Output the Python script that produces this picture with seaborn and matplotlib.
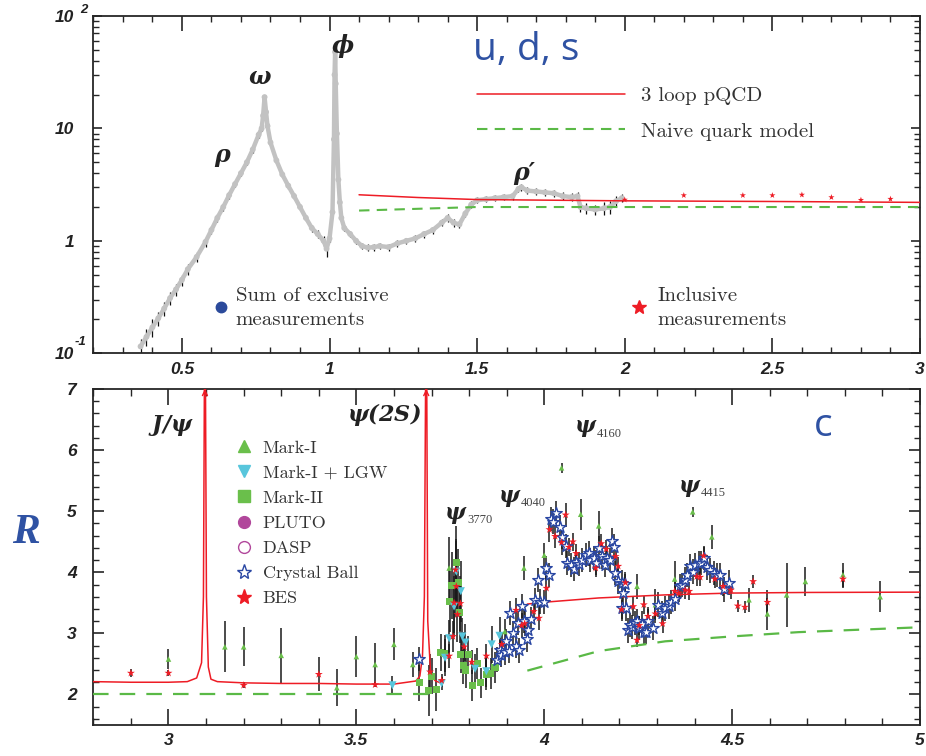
"""
R ratio in e+e- annihilation: u, d, s region (top) and charm threshold (bottom)
"""

import matplotlib
matplotlib.use("Agg")
import matplotlib.pyplot as plt
import seaborn as sns
from matplotlib.lines import Line2D
from matplotlib.ticker import MultipleLocator, LogLocator, NullFormatter

# ---------------- top panel data (sqrt(s) in GeV, R) ----------------
excl_x = [0.36, 0.38, 0.40, 0.42, 0.44, 0.46, 0.48, 0.50, 0.52, 0.55,
          0.58, 0.60, 0.62, 0.64, 0.66, 0.68, 0.70, 0.72, 0.74, 0.76,
          0.77, 0.775, 0.78, 0.785, 0.79, 0.80,
          0.82, 0.84, 0.86, 0.88, 0.90, 0.92, 0.94, 0.96, 0.98,
          0.99, 1.00, 1.01,
          1.015, 1.017, 1.019, 1.021, 1.025, 1.03, 1.035, 1.04, 1.05,
          1.07, 1.09, 1.11, 1.13, 1.15, 1.17,
          1.20, 1.23, 1.26, 1.29, 1.32, 1.35, 1.38,
          1.40, 1.42, 1.44, 1.46, 1.48, 1.50,
          1.53, 1.56, 1.59, 1.62,
          1.64, 1.65, 1.67,
          1.70, 1.73, 1.76, 1.79, 1.82, 1.84,
          1.85, 1.87, 1.90, 1.93, 1.95, 1.97, 1.99]
excl_y = [0.115, 0.14, 0.17, 0.205, 0.25, 0.31, 0.37, 0.45, 0.56, 0.72,
          0.98, 1.25, 1.6, 2.0, 2.55, 3.2, 4.0, 5.0, 6.5, 8.8,
          10.0, 13.0, 19.0, 14.0, 10.5, 7.5,
          5.2, 3.9, 3.1, 2.5, 2.0, 1.6, 1.3, 1.15, 1.0,
          0.85, 1.05, 1.8,
          8.0, 30.0, 48.0, 25.0, 9.0, 3.5, 2.2, 1.6, 1.3,
          1.15, 1.0, 0.9, 0.87, 0.88, 0.9,
          0.88, 0.95, 1.0, 1.05, 1.15, 1.25, 1.45,
          1.6, 1.45, 1.4, 1.75, 2.1, 2.3,
          2.35, 2.4, 2.45, 2.5,
          2.9, 3.0, 2.8,
          2.75, 2.7, 2.65, 2.5, 2.45, 2.5,
          2.0, 1.95, 1.9, 1.95, 2.0, 2.25, 2.4]
excl_err = [0.02, 0.025, 0.03, 0.03, 0.035, 0.04, 0.045, 0.05, 0.06, 0.07,
            0.09, 0.1, 0.12, 0.14, 0.17, 0.2, 0.25, 0.3, 0.4, 0.5,
            0.6, 0.8, 1.0, 0.8, 0.6, 0.4,
            0.3, 0.22, 0.18, 0.15, 0.12, 0.1, 0.09, 0.09, 0.1,
            0.13, 0.08, 0.15,
            0.6, 2.0, 3.0, 2.0, 0.6, 0.25, 0.15, 0.1, 0.08,
            0.07, 0.07, 0.06, 0.06, 0.06, 0.06,
            0.06, 0.07, 0.07, 0.08, 0.08, 0.09, 0.1,
            0.12, 0.11, 0.1, 0.12, 0.14, 0.15,
            0.15, 0.16, 0.16, 0.17,
            0.2, 0.2, 0.2,
            0.2, 0.2, 0.2, 0.2, 0.2, 0.2,
            0.2, 0.2, 0.2, 0.25, 0.25, 0.25, 0.2]

incl_x = [2.0, 2.2, 2.4, 2.5, 2.6, 2.7, 2.8, 2.9]
incl_y = [2.32, 2.54, 2.54, 2.54, 2.57, 2.44, 2.31, 2.36]
incl_err = [0.03, 0.03, 0.03, 0.03, 0.05, 0.03, 0.03, 0.03]

pqcd_top_x = [1.1, 1.3, 1.5, 2.0, 2.5, 3.0]
pqcd_top_y = [2.57, 2.43, 2.33, 2.27, 2.24, 2.20]
naive_top_x = [1.1, 1.5, 2.0, 3.0]
naive_top_y = [1.86, 2.0, 2.0, 2.0]

# ---------------- bottom panel data ----------------
pqcd_low_x = [2.8, 2.9, 3.0, 3.05, 3.075, 3.088, 3.093, 3.097, 3.101, 3.106,
              3.113, 3.13, 3.2, 3.3, 3.4, 3.5, 3.6, 3.658, 3.669, 3.676,
              3.681, 3.686, 3.690, 3.698, 3.711, 3.72]
pqcd_low_y = [2.21, 2.20, 2.20, 2.21, 2.27, 2.52, 3.6, 9.0, 3.6, 2.45,
              2.25, 2.21, 2.19, 2.18, 2.18, 2.17, 2.17, 2.22, 2.30, 2.63,
              3.6, 9.0, 3.2, 2.30, 2.22, 2.20]
pqcd_high_x = [3.955, 4.0, 4.145, 4.322, 4.5, 4.7, 5.0]
pqcd_high_y = [3.48, 3.51, 3.58, 3.63, 3.66, 3.67, 3.675]
naive_low_x = [2.8, 3.72]
naive_low_y = [2.0, 2.0]
naive_high_x = [3.955, 4.05, 4.145, 4.322, 4.5, 4.676, 5.0]
naive_high_y = [2.39, 2.55, 2.71, 2.87, 2.95, 3.02, 3.10]

mark1_x = [3.0, 3.15, 3.2, 3.3, 3.448, 3.5, 3.55, 3.6, 3.65, 3.747,
           3.895, 3.946, 4.0, 4.046, 4.097, 4.145, 4.247, 4.296, 4.347, 4.395,
           4.446, 4.545, 4.594, 4.645, 4.695, 4.795, 4.894]
mark1_y = [2.58, 2.78, 2.78, 2.64, 2.11, 2.62, 2.49, 2.82, 2.49, 4.07,
           3.03, 4.07, 4.28, 5.71, 4.95, 4.76, 3.77, 3.47, 3.89, 4.99,
           4.58, 3.55, 3.32, 3.63, 3.85, 3.96, 3.60]
mark1_err = [0.16, 0.42, 0.32, 0.45, 0.3, 0.34, 0.35, 0.26, 0.2, 0.5,
             0.2, 0.2, 0.2, 0.08, 0.25, 0.25, 0.2, 0.25, 0.3, 0.08,
             0.2, 0.2, 0.26, 0.53, 0.23, 0.2, 0.25]

lgw_x = [3.596, 3.727, 3.736, 3.747, 3.760, 3.766, 3.778, 3.782, 3.790, 3.816,
         3.846, 3.860, 3.881]
lgw_y = [2.15, 2.18, 2.60, 2.92, 3.44, 4.01, 3.69, 2.95, 2.85, 2.42,
         2.38, 2.82, 2.96]
lgw_err = [0.15, 0.1, 0.3, 0.3, 0.5, 0.5, 0.5, 0.3, 0.3, 0.25,
           0.25, 0.3, 0.3]

mark2_x = [3.667, 3.692, 3.700, 3.713, 3.725, 3.735, 3.749, 3.754, 3.766, 3.771,
           3.775, 3.778, 3.784, 3.791, 3.798, 3.809, 3.822, 3.831, 3.846, 3.857,
           3.869]
mark2_y = [2.19, 2.07, 2.30, 2.08, 2.69, 2.67, 3.52, 3.78, 4.16, 3.83,
           3.34, 2.65, 2.47, 2.40, 2.65, 2.15, 2.51, 2.19, 2.33, 2.34,
           2.44]
mark2_err = [0.3, 0.42, 0.3, 0.35, 0.3, 0.3, 0.5, 0.55, 0.6, 0.55,
             0.5, 0.3, 0.3, 0.3, 0.3, 0.25, 0.25, 0.25, 0.25, 0.25,
             0.25]

bes_x = [2.9, 3.0, 3.2, 3.4, 3.55, 3.696, 3.727, 3.747, 3.757, 3.760,
         3.764, 3.766, 3.769, 3.777, 3.787, 3.807, 3.846, 3.887, 3.925, 3.940,
         3.948, 3.972, 3.986, 4.006, 4.014, 4.029, 4.046, 4.057, 4.066, 4.076,
         4.085, 4.137, 4.152, 4.165, 4.190, 4.197, 4.206, 4.216, 4.237, 4.247,
         4.253, 4.265, 4.276, 4.296, 4.315, 4.347, 4.358, 4.375, 4.386, 4.406,
         4.415, 4.424, 4.454, 4.476, 4.497, 4.515, 4.534, 4.556, 4.594, 4.795]
bes_y = [2.35, 2.35, 2.15, 2.33, 2.16, 2.37, 2.23, 2.63, 2.95, 3.50,
         4.04, 3.77, 3.31, 3.49, 2.78, 2.53, 2.63, 2.82, 3.38, 3.13,
         3.16, 3.36, 3.25, 3.74, 4.70, 4.59, 4.49, 4.94, 4.41, 4.50,
         4.31, 4.07, 4.47, 4.38, 4.26, 4.10, 3.39, 3.83, 3.44, 2.89,
         3.13, 3.47, 3.28, 3.32, 3.16, 3.69, 3.66, 3.71, 3.69, 3.93,
         3.92, 4.27, 3.89, 3.77, 3.71, 3.45, 3.43, 3.85, 3.51, 3.89]
bes_err = [0.07, 0.05, 0.05, 0.28, 0.04, 0.3, 0.1, 0.2, 0.25, 0.5,
           0.5, 0.5, 0.45, 0.45, 0.25, 0.2, 0.2, 0.2, 0.2, 0.2,
           0.2, 0.2, 0.2, 0.2, 0.2, 0.2, 0.2, 0.2, 0.15, 0.15,
           0.15, 0.15, 0.15, 0.15, 0.15, 0.15, 0.15, 0.15, 0.15, 0.12,
           0.15, 0.15, 0.15, 0.15, 0.15, 0.15, 0.15, 0.15, 0.15, 0.15,
           0.15, 0.15, 0.15, 0.15, 0.15, 0.1, 0.1, 0.1, 0.2, 0.15]

cb_x = [3.667, 3.875, 3.882, 3.884, 3.895, 3.899, 3.906, 3.910, 3.917, 3.924,
        3.931, 3.934, 3.941, 3.946, 3.955, 3.957, 3.965, 3.975, 3.984, 3.990,
        3.999, 4.006, 4.012, 4.017, 4.024, 4.032, 4.041, 4.048, 4.057, 4.061,
        4.070, 4.079, 4.085, 4.092, 4.101, 4.110, 4.119, 4.123, 4.132, 4.138,
        4.145, 4.154, 4.161, 4.168, 4.174, 4.181, 4.185, 4.188, 4.197, 4.206,
        4.207, 4.209, 4.214, 4.218, 4.223, 4.229, 4.234, 4.241, 4.247, 4.252,
        4.259, 4.265, 4.271, 4.276, 4.289, 4.303, 4.314, 4.322, 4.331, 4.338,
        4.349, 4.360, 4.367, 4.374, 4.380, 4.389, 4.395, 4.402, 4.411, 4.418,
        4.424, 4.433, 4.442, 4.451, 4.460, 4.468, 4.479, 4.492]
cb_y = [2.58, 2.57, 2.73, 2.65, 2.69, 2.87, 2.71, 3.33, 3.01, 2.79,
        3.17, 2.72, 3.45, 3.21, 2.90, 3.06, 3.23, 3.55, 3.87, 3.52,
        3.51, 4.07, 3.96, 4.87, 4.83, 4.97, 4.74, 4.58, 4.43, 4.15,
        4.12, 4.05, 4.17, 4.14, 4.20, 4.28, 4.31, 4.20, 4.23, 4.16,
        4.39, 4.26, 4.12, 4.23, 4.20, 4.52, 4.42, 3.99, 3.85, 3.41,
        3.83, 3.66, 3.81, 3.41, 3.05, 3.14, 3.10, 3.17, 3.20, 3.09,
        3.16, 3.02, 3.02, 3.20, 3.09, 3.47, 3.33, 3.41, 3.44, 3.51,
        3.56, 3.77, 3.79, 3.88, 3.96, 4.10, 4.01, 4.12, 4.15, 4.15,
        4.23, 4.08, 4.03, 3.99, 3.96, 3.96, 3.72, 3.83]
cb_err = 0.2

top_xticks = [0.5, 1, 1.5, 2, 2.5, 3]
top_xlabels = ["0.5", "1", "1.5", "2", "2.5", "3"]
top_yticks = [0.1, 1, 10, 100]
top_ylabels = ["10", "1", "10", "10"]
bot_xticks = [3, 3.5, 4, 4.5, 5]
bot_xlabels = ["3", "3.5", "4", "4.5", "5"]
bot_yticks = [2, 3, 4, 5, 6, 7]
bot_ylabels = ["2", "3", "4", "5", "6", "7"]

# colours
RED = "#ee1c25"
GREEN = "#5ab946"
MARK1 = "#6abf4b"
CYAN = "#58c6dc"
PLUTO = "#b1479b"
CBBLUE = "#2a47a3"
GREY = "#c2c2c2"
TXTBLUE = "#2f52a3"
DARK = "#222222"

sns.set_style("ticks", {"xtick.direction": "in", "ytick.direction": "in",
                        "xtick.top": True, "ytick.right": True,
                        "xtick.bottom": True, "ytick.left": True,
                        "xtick.color": "#262626", "ytick.color": "#262626"})
plt.rcParams["xtick.minor.visible"] = True
plt.rcParams["ytick.minor.visible"] = True
plt.rcParams["mathtext.fontset"] = "custom"
plt.rcParams["mathtext.bfit"] = "DejaVu Serif:italic:bold"
plt.rcParams["mathtext.rm"] = "DejaVu Serif"
plt.rcParams["mathtext.it"] = "DejaVu Serif:italic"
plt.rcParams["mathtext.bf"] = "DejaVu Serif:bold"

TICKFONT = dict(fontsize=12.5, fontweight="bold", fontstyle="italic",
                family="Liberation Sans", color=DARK)
LEGFONT = {"family": "cmr10", "size": 15}

fig = plt.figure(figsize=(9.26, 7.56), dpi=100)
ax1 = fig.add_axes([0.1008, 0.5327, 0.8927, 0.4461])
ax2 = fig.add_axes([0.1008, 0.0410, 0.8927, 0.4444])

# ================= top panel =================
ax1.set_yscale("log")
ax1.errorbar(excl_x, excl_y, yerr=excl_err, fmt="none", ecolor="#111111",
             elinewidth=0.9, capsize=0, zorder=2)
sns.lineplot(x=excl_x, y=excl_y, color=GREY, lw=3.2, ax=ax1, zorder=3)
sns.scatterplot(x=excl_x, y=excl_y, color=GREY, s=18, edgecolor="none",
                ax=ax1, zorder=3, legend=False)
sns.lineplot(x=pqcd_top_x, y=pqcd_top_y, color=RED, lw=1.1, ax=ax1,
             zorder=4, label="3 loop pQCD")
sns.lineplot(x=naive_top_x, y=naive_top_y, color=GREEN, lw=1.5,
             linestyle=(0, (5, 3.5)), ax=ax1, zorder=4,
             label="Naive quark model")
ax1.errorbar(incl_x, incl_y, yerr=incl_err, fmt="none", ecolor=RED,
             elinewidth=0.8, capsize=0, zorder=4)
sns.scatterplot(x=incl_x, y=incl_y, marker="*", s=22, color=RED,
                edgecolor="none", ax=ax1, zorder=5, legend=False)

ax1.set_xlim(0.2, 3.0)
ax1.set_ylim(0.1, 100)
ax1.set_xticks(top_xticks)
ax1.set_xticklabels(top_xlabels, **TICKFONT)
ax1.xaxis.set_minor_locator(MultipleLocator(0.1))
ax1.set_yticks(top_yticks)
ax1.set_yticklabels(top_ylabels, **TICKFONT)
ax1.yaxis.set_minor_locator(LogLocator(base=10, subs=[2, 3, 4, 5, 6, 7, 8, 9]))
ax1.yaxis.set_minor_formatter(NullFormatter())
ax1.tick_params(axis="x", which="major", direction="in", length=11, width=1.2,
                bottom=True, top=True, pad=6)
ax1.tick_params(axis="x", which="minor", direction="in", length=4.5, width=1.0,
                bottom=True, top=True)
ax1.tick_params(axis="y", which="major", direction="in", length=6.5, width=1.2,
                left=True, right=True, pad=14)
ax1.tick_params(axis="y", which="minor", direction="in", length=4.5, width=1.0,
                left=True, right=True)
ax1.set_xlabel("")
ax1.set_ylabel("")
# exponents of the 10^2 and 10^-1 labels
ax1.text(-0.011, 1.019, "2", transform=ax1.transAxes, ha="center", va="center",
         fontsize=9.5, fontweight="bold", fontstyle="italic",
         family="Liberation Sans", color=DARK)
ax1.text(-0.015, 0.032, "-1", transform=ax1.transAxes, ha="center",
         va="center", fontsize=9.5, fontweight="bold", fontstyle="italic",
         family="Liberation Sans", color=DARK)

leg_lines = ax1.legend(loc="upper left", bbox_to_anchor=(0.4643, 0.79),
                       frameon=False, prop=LEGFONT, handlelength=7.1,
                       handletextpad=0.75, labelspacing=0.8, borderpad=0,
                       borderaxespad=0)
for t in leg_lines.get_texts():
    t.set_color("#333333")
ax1.add_artist(leg_lines)

h_excl = Line2D([], [], ls="", marker="o", ms=7.5, color="#2b4a9b")
leg_excl = ax1.legend([h_excl], ["Sum of exclusive\nmeasurements"],
                      loc="center left", bbox_to_anchor=(0.1444, 0.135),
                      frameon=False, prop=LEGFONT, handlelength=0.8,
                      handletextpad=0.3, borderpad=0, borderaxespad=0)
ax1.add_artist(leg_excl)
h_incl = Line2D([], [], ls="", marker="*", ms=10, color=RED)
leg_incl = ax1.legend([h_incl], ["Inclusive\nmeasurements"],
                      loc="center left", bbox_to_anchor=(0.6505, 0.135),
                      frameon=False, prop=LEGFONT, handlelength=0.8,
                      handletextpad=0.45, borderpad=0, borderaxespad=0)
for lg in (leg_excl, leg_incl):
    for t in lg.get_texts():
        t.set_color("#333333")
        t.set_linespacing(1.45)

GREEKFONT = dict(fontsize=17, color=DARK, ha="center", va="center")
ax1.text(0.639, 5.6, r"$\mathbfit{\rho}$", **GREEKFONT)
ax1.text(0.764, 28.5, r"$\mathbfit{\omega}$", **GREEKFONT)
ax1.text(1.046, 54, r"$\mathbfit{\phi}$", **GREEKFONT)
ax1.text(1.66, 4.05, "\u03c1\u2032", fontsize=17, fontweight="bold",
         fontstyle="italic", family="DejaVu Serif", color=DARK,
         ha="center", va="center")
ax1.text(1.666, 50, "u, d, s", fontsize=28, family="Open Sans",
         color=TXTBLUE, ha="center", va="center")

# ================= bottom panel =================
sns.lineplot(x=pqcd_low_x, y=pqcd_low_y, color=RED, lw=1.1, ax=ax2, zorder=3)
sns.lineplot(x=pqcd_high_x, y=pqcd_high_y, color=RED, lw=1.1, ax=ax2, zorder=3)
sns.lineplot(x=naive_low_x, y=naive_low_y, color=GREEN, lw=1.6,
             linestyle=(0, (7, 5)), ax=ax2, zorder=3)
sns.lineplot(x=naive_high_x, y=naive_high_y, color=GREEN, lw=1.6,
             linestyle=(0, (7, 5)), ax=ax2, zorder=3)
for xp in (3.097, 3.686):
    ax2.annotate("", xy=(xp, 7.0), xytext=(xp, 6.7),
                 arrowprops=dict(arrowstyle="->", color=RED, lw=1.0,
                                 shrinkA=0, shrinkB=0, mutation_scale=9),
                 annotation_clip=False)

for xs, ys, es in [(mark1_x, mark1_y, mark1_err), (lgw_x, lgw_y, lgw_err),
                   (mark2_x, mark2_y, mark2_err), (bes_x, bes_y, bes_err),
                   (cb_x, cb_y, cb_err)]:
    ax2.errorbar(xs, ys, yerr=es, fmt="none", ecolor="#1a1a1a",
                 elinewidth=1.1, capsize=0, zorder=2)

sns.scatterplot(x=mark2_x, y=mark2_y, marker="s", s=26, color=MARK1,
                edgecolor="none", ax=ax2, zorder=4, legend=False)
sns.scatterplot(x=lgw_x, y=lgw_y, marker="v", s=34, color=CYAN,
                edgecolor="none", ax=ax2, zorder=4, legend=False)
sns.scatterplot(x=mark1_x, y=mark1_y, marker="^", s=16, color=MARK1,
                edgecolor="none", ax=ax2, zorder=5, legend=False)
sns.scatterplot(x=cb_x, y=cb_y, marker="*", s=75, facecolor="white",
                edgecolor=CBBLUE, linewidth=1.0, ax=ax2, zorder=5,
                legend=False)
sns.scatterplot(x=bes_x, y=bes_y, marker="*", s=36, color=RED,
                edgecolor="none", ax=ax2, zorder=6, legend=False)

ax2.set_xlim(2.8, 5.0)
ax2.set_ylim(1.5, 7.0)
ax2.set_xticks(bot_xticks)
ax2.set_xticklabels(bot_xlabels, **TICKFONT)
ax2.xaxis.set_minor_locator(MultipleLocator(0.1))
ax2.set_yticks(bot_yticks)
ax2.set_yticklabels(bot_ylabels, **TICKFONT)
ax2.yaxis.set_minor_locator(MultipleLocator(0.2))
ax2.tick_params(axis="x", which="major", direction="in", length=11.5,
                width=1.2, bottom=True, top=True, pad=6)
ax2.tick_params(axis="x", which="minor", direction="in", length=5, width=1.0,
                bottom=True, top=True)
ax2.tick_params(axis="y", which="major", direction="in", length=8, width=1.2,
                left=True, right=True, pad=12)
ax2.tick_params(axis="y", which="minor", direction="in", length=4, width=1.0,
                left=True, right=True)
ax2.set_xlabel("")
ax2.set_ylabel("")

leg_handles = [
    Line2D([], [], ls="", marker="^", ms=9, color=MARK1),
    Line2D([], [], ls="", marker="v", ms=9, color=CYAN),
    Line2D([], [], ls="", marker="s", ms=8, color=MARK1),
    Line2D([], [], ls="", marker="o", ms=8.5, color=PLUTO),
    Line2D([], [], ls="", marker="o", ms=8.5, mfc="white", mec=PLUTO, mew=1.0),
    Line2D([], [], ls="", marker="*", ms=11, mfc="white", mec=CBBLUE, mew=1.0),
    Line2D([], [], ls="", marker="*", ms=11, color=RED),
]
leg_labels = ["Mark-I", "Mark-I + LGW", "Mark-II", "PLUTO", "DASP",
              "Crystal Ball", "BES"]
leg2 = ax2.legend(leg_handles, leg_labels, loc="upper left",
                  bbox_to_anchor=(0.171, 0.848), frameon=False,
                  prop={"family": "cmr10", "size": 13}, handlelength=1.0,
                  handletextpad=0.55, labelspacing=0.52, borderpad=0,
                  borderaxespad=0)
for t in leg2.get_texts():
    t.set_color("#333333")

PSIFONT = dict(fontsize=16, color=DARK, ha="center", va="center")
ax2.text(3.005, 6.40, r"$\mathbfit{J/\psi}$", **PSIFONT)
ax2.text(3.574, 6.58, r"$\mathbfit{\psi(2S)}$", **PSIFONT)
for px, py, sub in [(3.765, 4.93, "3770"), (3.907, 5.21, "4040"),
                    (4.110, 6.35, "4160"), (4.388, 5.37, "4415")]:
    ax2.annotate(r"$\mathbfit{\psi}$", (px, py), ha="center", va="center",
                 fontsize=16, color=DARK)
    ax2.annotate(sub, (px, py), xytext=(8, -3.5), textcoords="offset points",
                 ha="left", va="center", fontsize=9, family="Liberation Serif",
                 color="#444444")
ax2.text(4.742, 6.40, "c", fontsize=28, family="Open Sans", color=TXTBLUE,
         ha="center", va="center")

for ax in (ax1, ax2):
    for sp in ax.spines.values():
        sp.set_visible(True)
        sp.set_linewidth(1.3)
        sp.set_color("#262626")

fig.text(0.028, 0.295, "R", fontsize=30, fontweight="bold",
         fontstyle="italic", family="Liberation Serif", color=TXTBLUE,
         ha="center", va="center")

fig.savefig("out.png", dpi=100)
plt.close(fig)
